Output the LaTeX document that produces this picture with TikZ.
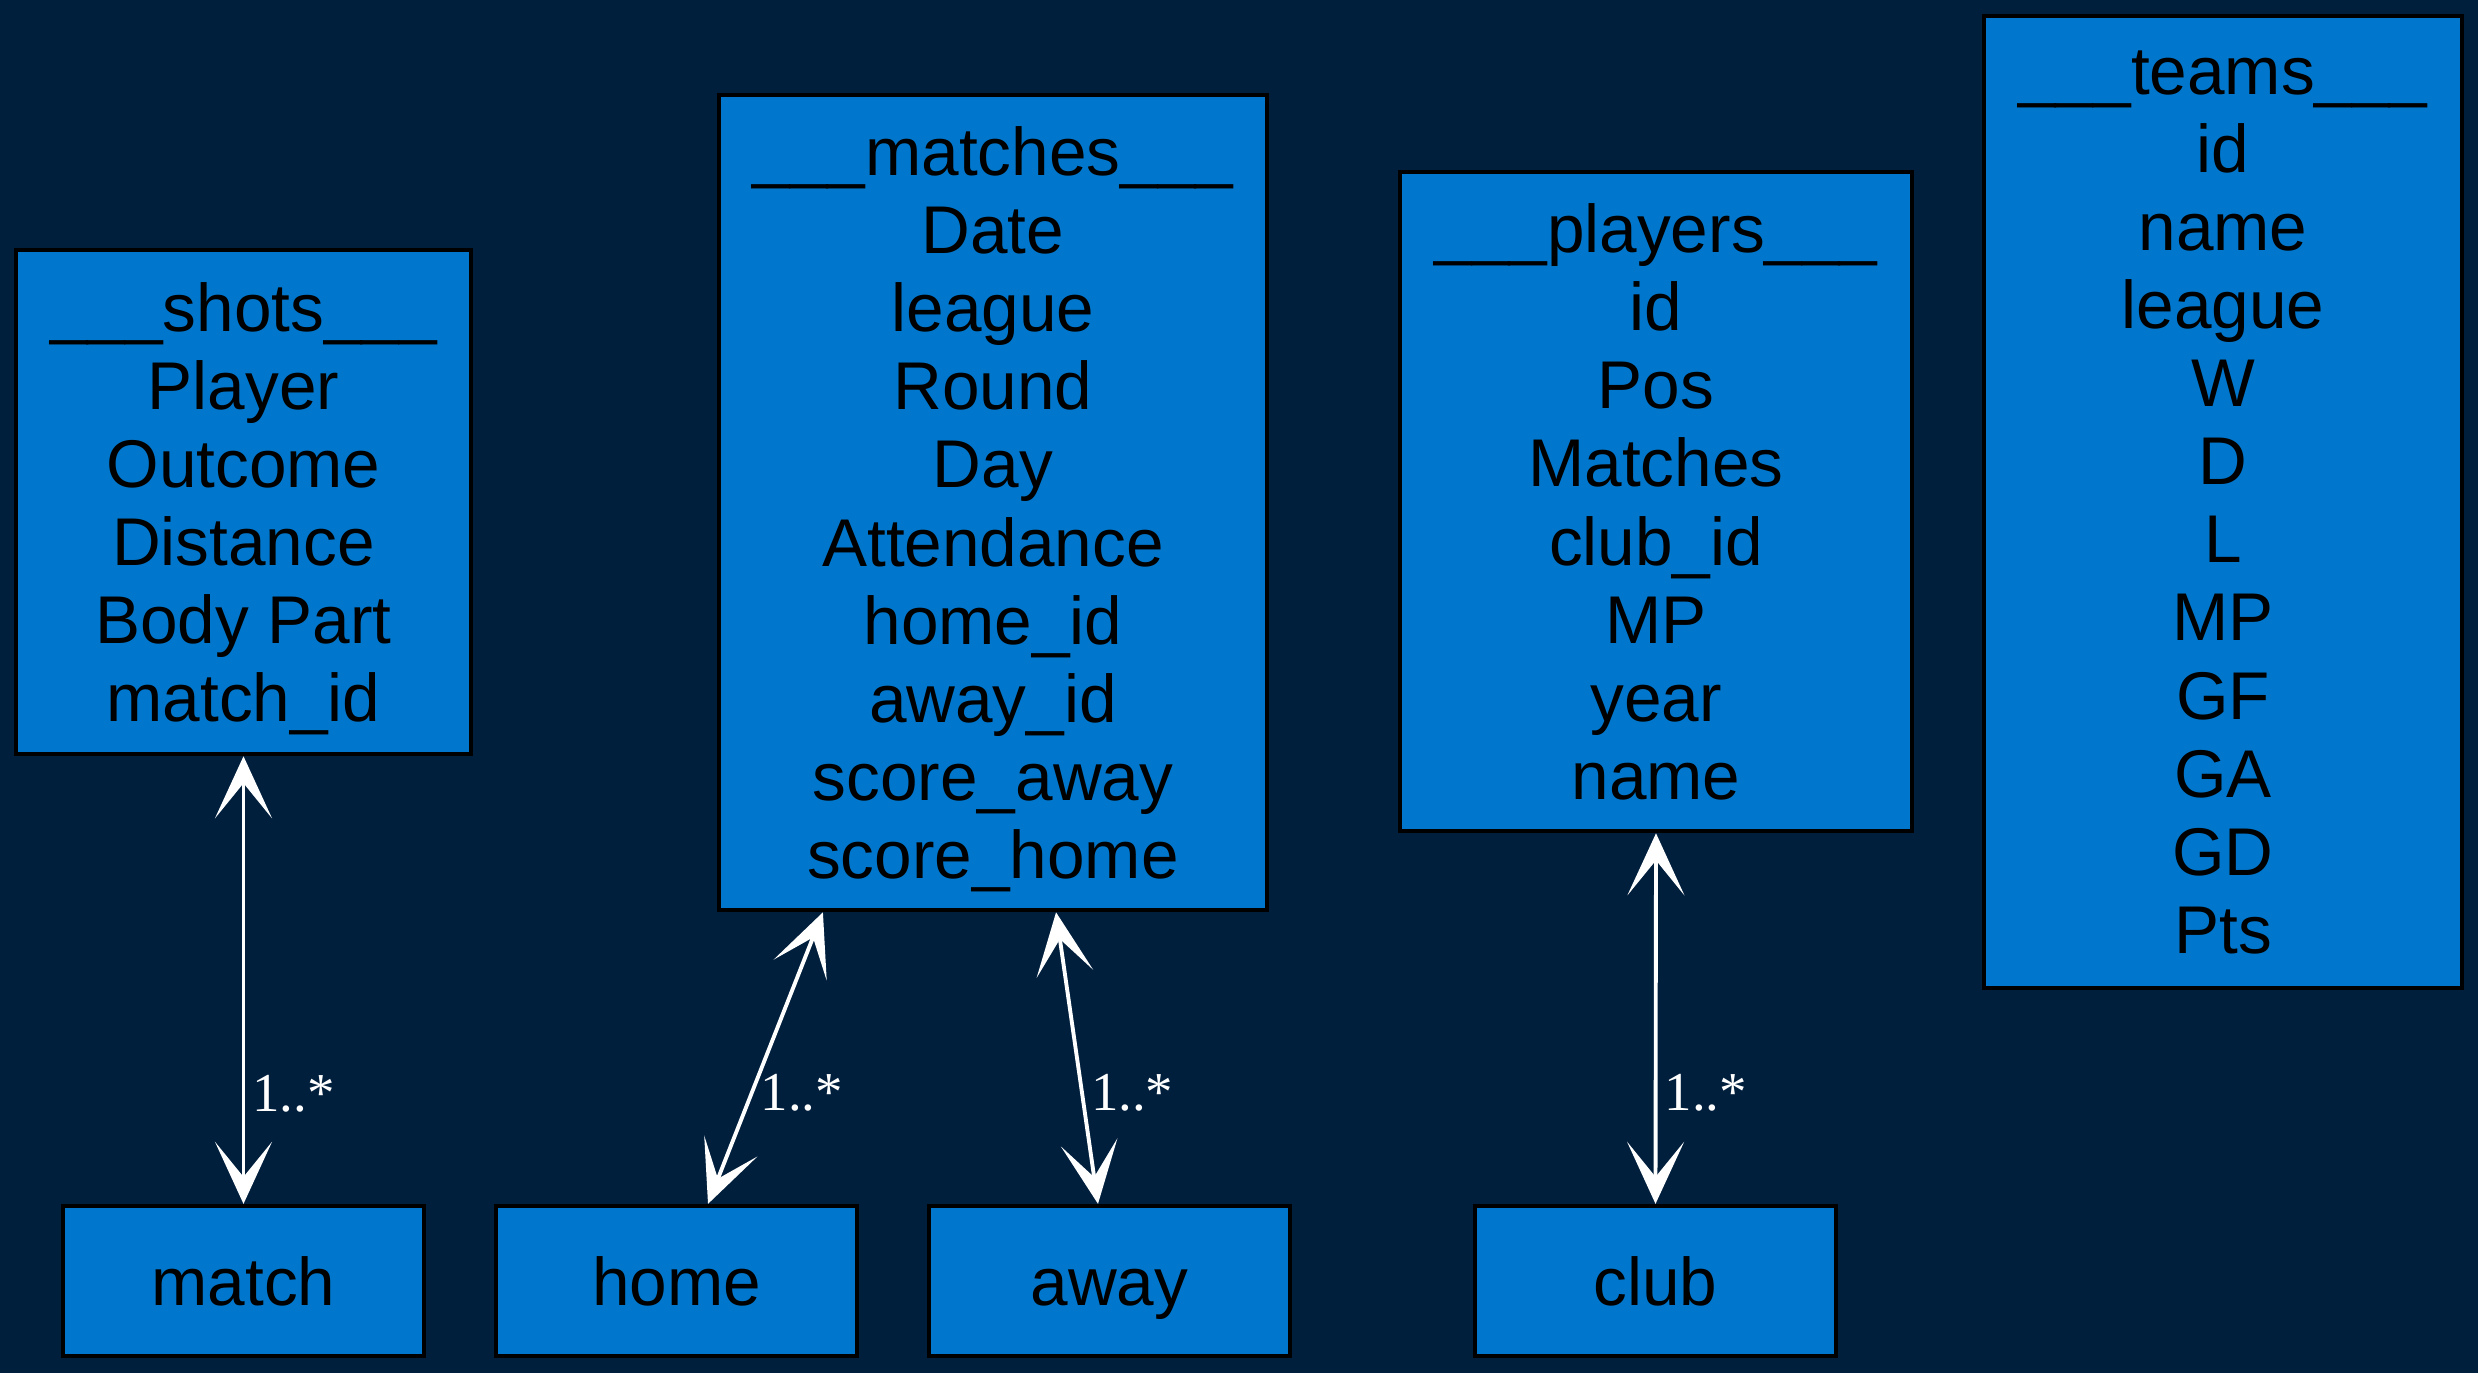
\documentclass[tikz,border=0pt]{standalone}
\usepackage{fontspec}
\setmainfont{Liberation Sans}
\newfontfamily\multfont{Liberation Serif}
\usetikzlibrary{arrows.meta}
\usetikzlibrary{calc}

\definecolor{navybg}{HTML}{001F3D}
\definecolor{tablefill}{HTML}{0077CC}

\tikzset{
  tablebox/.style={draw=black, line width=1.2pt, fill=tablefill, align=center, inner sep=0pt,
    font=\fontsize{19.2pt}{22.2pt}\selectfont, text depth=0pt},
  keybox/.style={tablebox, text height=13.75pt, minimum width=3.61cm, minimum height=1.50cm},
  relation/.style={white, line width=1.1pt,
    {Stealth[length=0.62cm, width=0.57cm, inset=0.35cm]}-{Stealth[length=0.62cm, width=0.57cm, inset=0.35cm]}},
  mult/.style={white, anchor=west, inner sep=2pt, font=\multfont\fontsize{15.6pt}{18pt}\selectfont}
}

\begin{document}
\begin{tikzpicture}[x=0.01cm, y=-0.01cm]
  % Background
  \fill[navybg] (0,0) rectangle (2478,1373);
  \useasboundingbox (0,0) rectangle (2478,1373);

  % Tables
  \node[tablebox, minimum width=4.55cm, minimum height=5.04cm] (shots) at (243.5,502)
    {\_\_\_shots\_\_\_\\Player\\Outcome\\Distance\\Body Part\\match\_id};
  \node[tablebox, minimum width=5.48cm, minimum height=8.15cm] (matches) at (993,502.5)
    {\_\_\_matches\_\_\_\\Date\\league\\Round\\Day\\Attendance\\home\_id\\away\_id\\score\_away\\score\_home};
  \node[tablebox, minimum width=5.12cm, minimum height=6.59cm] (players) at (1656,501.5)
    {\_\_\_players\_\_\_\\id\\Pos\\Matches\\club\_id\\MP\\year\\name};
  \node[tablebox, minimum width=4.77cm, minimum height=9.71cm] (teams) at (2223,502)
    {\_\_\_teams\_\_\_\\id\\name\\league\\W\\D\\L\\MP\\GF\\GA\\GD\\Pts};

  % Keys
  \foreach \name/\x in {match/243.5, home/676.5, away/1109.5, club/1655.5} {
    \node[keybox] (\name) at (\x,1281) {\name};
  }

  % Ends on the matches table
  \coordinate (mhome) at ([xshift=-1.70cm]matches.south);
  \coordinate (maway) at ([xshift=0.63cm]matches.south);
  \coordinate (khome) at ([xshift=0.315cm]home.north);
  \coordinate (kaway) at ([xshift=-0.115cm]away.north);

  % Relations
  \draw[relation] (shots.south) -- node[mult, pos=0.755] {1..*} (match.north);
  \draw[relation] (mhome) -- node[mult, pos=0.62] {1..*} (khome);
  \draw[relation] (maway) -- node[mult, pos=0.62] {1..*} (kaway);
  \draw[relation] (players.south) -- node[mult, pos=0.70] {1..*} (club.north);
\end{tikzpicture}
\end{document}
